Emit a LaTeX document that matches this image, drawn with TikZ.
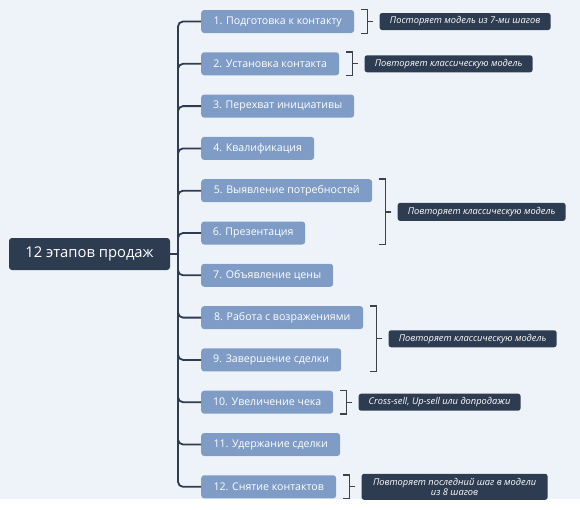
\documentclass[tikz,border=0pt]{standalone}
\usepackage{fontspec}
\setmainfont{Open Sans}
\usetikzlibrary{positioning,calc}
\definecolor{mapbg}{HTML}{EEF3FA}
\definecolor{stepblue}{HTML}{7F9CC6}
\definecolor{mapnavy}{HTML}{2E3C52}
\definecolor{brackgray}{HTML}{3F4148}

\begin{document}
\begin{tikzpicture}[
  x=1pt, y=-1pt,
  root/.style={
    fill=mapnavy,
    text=white,
    rounded corners=3pt,
    minimum width=161pt,
    minimum height=32pt,
    font=\fontsize{14.8}{17}\selectfont
  },
  stepbox/.style={
    fill=stepblue,
    text=white,
    rounded corners=3pt,
    anchor=west,
    minimum height=23pt,
    inner xsep=0pt,
    font=\fontsize{10.6}{12}\selectfont
  },
  note/.style={
    fill=mapnavy,
    text=white,
    rounded corners=2.5pt,
    align=center,
    inner sep=0pt,
    font=\fontsize{9.3}{10.5}\selectfont\itshape
  },
  trunk/.style={draw=mapnavy, line width=1.8pt, rounded corners=5pt},
  brk/.style={draw=brackgray, line width=1.3pt}
]
  \useasboundingbox (0,0) rectangle (580,509);
  \fill[mapbg] (0,0) rectangle (580,499);

  % root and its twelve steps
  \node[root] (root) at (89.5,254) {12 этапов продаж};
  \foreach \i/\w/\t in {
      1/153/1. Подготовка к контакту,
      2/138/2. Установка контакта,
      3/153/3. Перехват инициативы,
      4/113/4. Квалификация,
      5/171/5. Выявление потребностей,
      6/104/6. Презентация,
      7/132/7. Объявление цены,
      8/162/8. Работа с возражениями,
      9/140/9. Завершение сделки,
      10/132/10. Увеличение чека,
      11/139/11. Удержание сделки,
      12/135/12. Снятие контактов}
    \node[stepbox, minimum width=\w pt] (s\i) at (201,{21.5+42.3*(\i-1)}) {\t};

  \coordinate (j) at (178,254);
  \draw[trunk] (root.east) -- (j);
  \foreach \i in {1,...,12}
    \draw[trunk] (j) |- (s\i.west);

  % comments on the right
  \coordinate (m56) at ($(s5.east)!0.5!(s5.east |- s6.east)$);
  \coordinate (m89) at ($(s8.east)!0.5!(s8.east |- s9.east)$);
  \node[note, right=25pt of s1, minimum width=171pt, minimum height=17pt] (n1) {Посторяет модель из 7-ми шагов};
  \node[note, right=25pt of s2, minimum width=168pt, minimum height=17pt] (n2) {Повторяет классическую модель};
  \node[note, right=25pt of m56, minimum width=168pt, minimum height=18pt] (n56) {Повторяет классическую модель};
  \node[note, right=25pt of m89, minimum width=168pt, minimum height=17pt] (n89) {Повторяет классическую модель};
  \node[note, right=25pt of s10, minimum width=162pt, minimum height=17pt] (n10) {Cross-sell, Up-sell или допродажи};
  \node[note, right=25pt of s12, minimum width=186pt, minimum height=26pt] (n12) {Повторяет последний шаг в модели\\из 8 шагов};

  % brackets
  \foreach \a/\b/\n in {1/1/1, 2/2/2, 5/6/56, 8/9/89, 10/10/10, 12/12/12} {
    \draw[brk] ([xshift=7pt]s\a.north east) -- ++(6,0) |- ($(s\a.east |- s\b.south)+(7,0)$);
    \draw[brk] ([xshift=-6pt]n\n.west) -- ++(-6,0);
  }
\end{tikzpicture}
\end{document}
